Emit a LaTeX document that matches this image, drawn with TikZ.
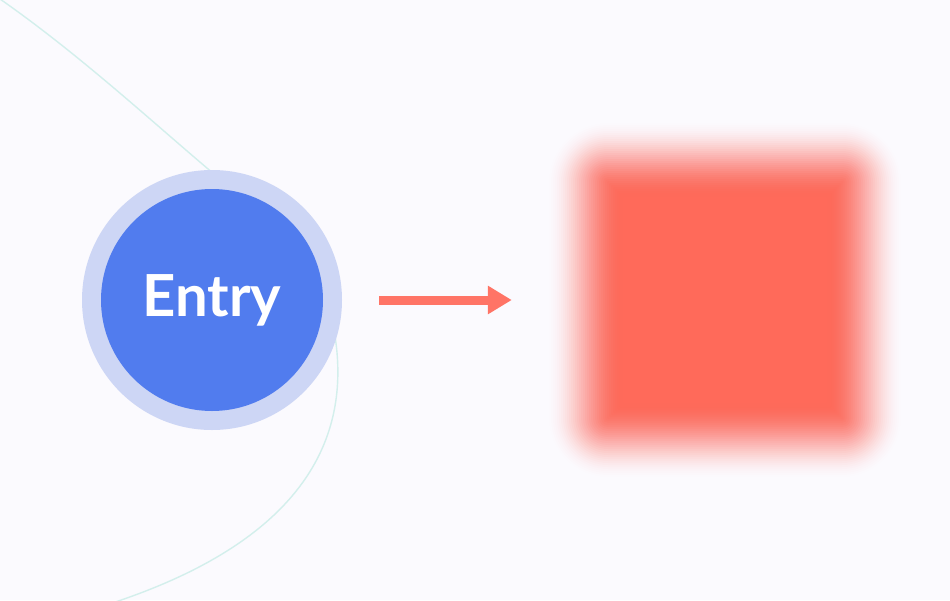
\documentclass[tikz,border=0pt]{standalone}
\usepackage{fontspec}
\setmainfont{Lato}
\usetikzlibrary{arrows.meta}
\definecolor{bgc}{HTML}{FBFAFE}
\definecolor{ringc}{HTML}{CDD6F5}
\definecolor{bluec}{HTML}{517CEE}
\definecolor{redc}{HTML}{FF6A5A}
\definecolor{arrowc}{HTML}{FF7466}
\definecolor{tealc}{HTML}{D3EFEC}
\tikzset{
  guide/.style={draw=tealc, line width=1.4pt},
  ringstyle/.style={circle, fill=ringc, minimum size=260pt, inner sep=0pt},
  corestyle/.style={circle, fill=bluec, minimum size=222pt, inner sep=0pt, text=white, font=\fontsize{58}{60}\selectfont\bfseries},
  flow/.style={draw=arrowc, line width=9pt, -{Triangle[length=24pt,width=27pt]}},
}
\begin{document}
\begin{tikzpicture}[x=1pt,y=-1pt]
\fill[bgc] (0,0) rectangle (950,600);
\useasboundingbox (0,0) rectangle (950,600);
% faint guide curves
\coordinate (g1s) at (0,-1);
\coordinate (g1e) at (214,174);
\coordinate (g2s) at (334,330);
\coordinate (g2e) at (90,610);
\draw[guide] (g1s) .. controls (80,55) and (150,120) .. (g1e);
\draw[guide] (g2s) .. controls (350,420) and (325,540) .. (g2e);
% blurred square (smoothstep ramp)
\foreach \k in {1,...,38}{
  \pgfmathsetmacro{\ta}{(\k-1)/38}
  \pgfmathsetmacro{\tb}{\k/38}
  \pgfmathsetmacro{\Aa}{\ta*\ta*(3-2*\ta)}
  \pgfmathsetmacro{\Ab}{\tb*\tb*(3-2*\tb)}
  \pgfmathsetmacro{\op}{(\Ab-\Aa)/(1-\Aa)}
  \pgfmathsetmacro{\d}{39-2*\k}
  \pgfmathsetmacro{\r}{max(22+\d,1)}
  \fill[redc, fill opacity=\op, rounded corners=\r pt] (586-\d,160-\d) rectangle (864+\d,440+\d);
}
\node[draw=none, minimum width=278pt, minimum height=280pt, inner sep=0pt] (box) at (725,300) {};
% entry circle
\node[ringstyle] (ring) at (212,300) {};
\node[corestyle] (entry) at (ring.center) {Entry};
% arrow
\draw[flow, shorten <=37pt, shorten >=74pt] (ring.east) -- (box.west);
\end{tikzpicture}
\end{document}
